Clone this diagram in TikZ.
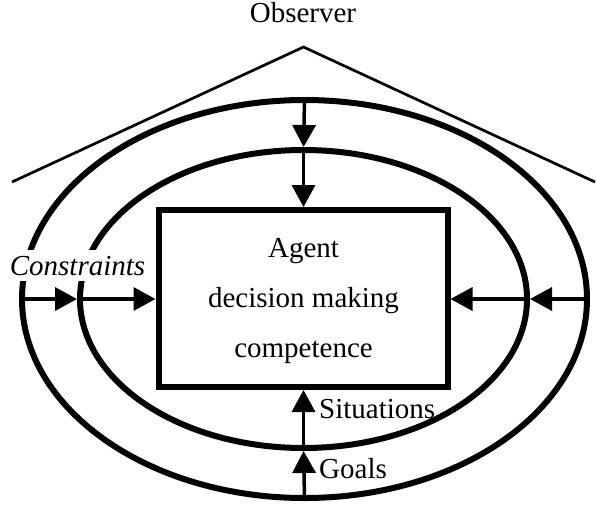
\documentclass[tikz,border=0pt]{standalone}
\usepackage{fontspec}
\setmainfont{Liberation Serif}
\usetikzlibrary{arrows.meta,shapes.geometric}
\begin{document}
\begin{tikzpicture}[x=1pt,y=-1pt,
  ring/.style={draw, ellipse, line width=6pt, outer sep=0pt, inner sep=0pt},
  box/.style={draw, rectangle, line width=6pt, outer sep=0pt, inner sep=0pt},
  roof/.style={line width=2.7pt, line join=miter},
  flow/.style={line width=3.5pt, -{Triangle[length=22pt,width=23pt]}, shorten >=3pt},
  lbl/.style={font=\fontsize{29}{34}\selectfont, inner sep=0pt}
]
\useasboundingbox (0,0) rectangle (597,507);
% roof
\coordinate (apex) at (303.5,47);
\coordinate (roofL) at (12,182);
\coordinate (roofR) at (595,182);
\draw[roof] (roofL) -- (apex) -- (roofR);
\node[lbl, anchor=base] (obs) at (303,22) {Observer};
% ellipses
\node[ring, minimum width=565pt, minimum height=398pt] (outer) at (304.5,299) {};
\node[ring, minimum width=447pt, minimum height=298pt] (inner) at (303.5,299) {};
% constraints label (white background interrupts ellipses)
\node[lbl, fill=white, inner sep=6pt, anchor=base] (cons) at (77.5,275) {\itshape Constraints};
% agent box
\node[box, minimum width=289pt, minimum height=177pt] (rect) at (303,298.5) {};
\node[align=center, font=\fontsize{29}{50}\selectfont, inner sep=0pt] (agent) at (303.5,301) {Agent\\decision making\\competence};
% arrows
\draw[flow] (outer.north) -- (inner.north);
\draw[flow] (inner.north) -- (inner.north |- rect.north);
\draw[flow] (outer.west) -- (inner.west);
\draw[flow] (inner.west) -- (inner.west -| rect.west);
\draw[flow] (outer.east) -- (inner.east);
\draw[flow] (inner.east) -- (inner.east -| rect.east);
\draw[flow] (outer.south) -- (inner.south);
\draw[flow] (inner.south) -- (inner.south |- rect.south);
% labels
\node[lbl, anchor=base west] (sit) at (319,418) {Situations};
\node[lbl, anchor=base west] (goals) at (319,478) {Goals};
\end{tikzpicture}
\end{document}
